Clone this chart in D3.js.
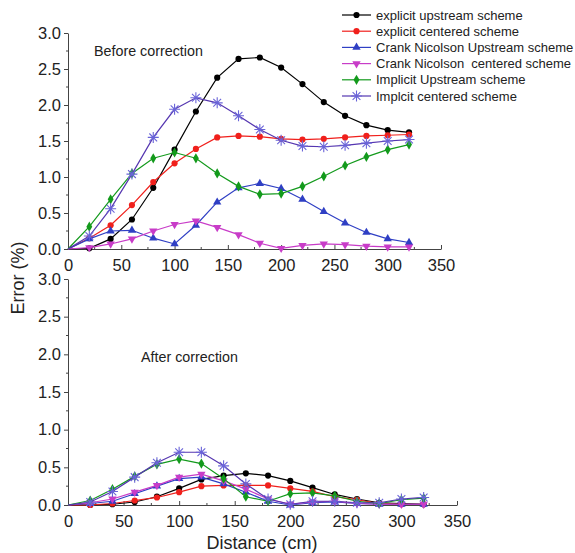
<!DOCTYPE html>
<html>
<head>
<meta charset="utf-8">
<script src="https://cdn.jsdelivr.net/npm/d3@7"></script>
<style>
  body { margin: 0; background: #fff; }
  svg text { font-family: "Liberation Sans", Arial, sans-serif; fill: #222; white-space: pre; }
</style>
</head>
<body>
<svg id="chart" width="575" height="553"></svg>
<script>
// distances along the column (cm)
var distance = [0, 20, 40, 60, 80, 100, 120, 140, 160, 180, 200, 220, 240, 260, 280, 300, 320]
var xTicks = [0, 50, 100, 150, 200, 250, 300, 350]
var yTicks = [0, 0.5, 1.0, 1.5, 2.0, 2.5, 3.0]

var seriesNames = ['explicit upstream scheme', 'explicit centered scheme', 'Crank Nicolson Upstream scheme',
  'Crank Nicolson  centered scheme', 'Implicit Upstream scheme', 'Implcit centered scheme']

// error (%) before correction
var beforeExpUp   = [0, 0.01, 0.14, 0.41, 0.85, 1.38, 1.91, 2.38, 2.64, 2.66, 2.52, 2.29, 2.04, 1.85, 1.72, 1.65, 1.62]
var beforeExpCen  = [0, 0.15, 0.33, 0.61, 0.93, 1.19, 1.39, 1.55, 1.57, 1.56, 1.53, 1.52, 1.53, 1.55, 1.57, 1.58, 1.59]
var beforeCnUp    = [0, 0.14, 0.25, 0.26, 0.15, 0.07, 0.33, 0.65, 0.85, 0.91, 0.84, 0.69, 0.52, 0.36, 0.23, 0.14, 0.09]
var beforeCnCen   = [0, 0.02, 0.07, 0.14, 0.25, 0.34, 0.39, 0.30, 0.20, 0.08, 0.01, 0.05, 0.07, 0.06, 0.04, 0.03, 0.03]
var beforeImpUp   = [0, 0.31, 0.69, 1.05, 1.26, 1.34, 1.26, 1.05, 0.87, 0.76, 0.77, 0.87, 1.01, 1.16, 1.28, 1.38, 1.45]
var beforeImpCen  = [0, 0.18, 0.56, 1.04, 1.55, 1.94, 2.10, 2.03, 1.85, 1.66, 1.51, 1.43, 1.42, 1.44, 1.47, 1.50, 1.52]

// error (%) after correction
var afterExpUp    = [0, 0, 0.01, 0.04, 0.11, 0.22, 0.34, 0.39, 0.42, 0.39, 0.32, 0.23, 0.14, 0.08, 0.03, 0.02, 0.01]
var afterExpCen   = [0, 0, 0.02, 0.06, 0.10, 0.17, 0.25, 0.26, 0.26, 0.26, 0.22, 0.18, 0.11, 0.07, 0.02, 0.01, 0.01]
var afterCnUp     = [0, 0.02, 0.05, 0.15, 0.25, 0.35, 0.37, 0.28, 0.17, 0.05, 0.0, 0.03, 0.04, 0.02, 0.01, 0.01, 0.01]
var afterCnCen    = [0, 0.03, 0.08, 0.17, 0.26, 0.37, 0.41, 0.32, 0.21, 0.08, 0.01, 0.04, 0.05, 0.02, 0.01, 0.01, 0.01]
var afterImpUp    = [0, 0.06, 0.21, 0.38, 0.54, 0.61, 0.55, 0.35, 0.11, 0.05, 0.15, 0.16, 0.12, 0.05, 0.02, 0.07, 0.09]
var afterImpCen   = [0, 0.04, 0.18, 0.37, 0.56, 0.70, 0.70, 0.52, 0.28, 0.08, 0.01, 0.05, 0.05, 0.03, 0.03, 0.08, 0.10]

var colors = ['#000000', '#f0201c', '#2f3fc4', '#c83cc8', '#139a1c', '#5536b0']
var markerColors = ['#000000', '#f0201c', '#2f3fc4', '#c83cc8', '#139a1c', '#6a64d8']
var shapes = ['circle', 'circle', 'triUp', 'triDown', 'diamond', 'star']

var svg = d3.select('#chart')

function drawMarker(g, shape, color, x, y) {
  if (shape == 'star') { // asterisk marker, drawn as strokes
    var r = 5.5
    var p = ''
    for (var k = 0; k < 4; k++) {
      var a = k * Math.PI / 4
      p += 'M' + (x - r * Math.cos(a)) + ',' + (y - r * Math.sin(a)) + 'L' + (x + r * Math.cos(a)) + ',' + (y + r * Math.sin(a))
    }
    g.append('path').attr('d', p).attr('stroke', color).attr('stroke-width', 1.1).attr('fill', 'none')
    return
  }
  var sym, size, rot = 0
  if (shape == 'circle') { sym = d3.symbolCircle; size = 30 }
  if (shape == 'triUp') { sym = d3.symbolTriangle; size = 30 }
  if (shape == 'triDown') { sym = d3.symbolTriangle; size = 30; rot = 180 }
  if (shape == 'diamond') { sym = d3.symbolDiamond; size = 30 }
  g.append('path')
    .attr('d', d3.symbol().type(sym).size(size)())
    .attr('transform', 'translate(' + x + ',' + y + ') rotate(' + rot + ')')
    .attr('fill', color)
}

function drawPanel(opts) {
  var x = d3.scaleLinear().domain([0, 350]).range([68, opts.right])
  var y = d3.scaleLinear().domain([0, 3]).range([opts.bottom, opts.top])
  var g = svg.append('g')

  // x axis, ticks pointing up into the plot
  var xAxis = d3.axisBottom(x).tickValues(xTicks).tickFormat(d3.format('d')).tickSizeInner(-4).tickSizeOuter(0).tickPadding(8)
  var gx = g.append('g').attr('transform', 'translate(0,' + opts.bottom + ')').call(xAxis)
  gx.selectAll('.tick').filter(function(d) { return d == 0 }).select('line').remove()
  gx.selectAll('.tick text').attr('font-size', 16.5).attr('dy', '0.85em')
  gx.selectAll('.minor').data(d3.range(25, 350, 50)).enter().append('line')
    .attr('x1', function(d) { return x(d) }).attr('x2', function(d) { return x(d) })
    .attr('y1', 0).attr('y2', -2).attr('stroke', '#444')

  // y axis, ticks outside
  var yAxis = d3.axisLeft(y).tickValues(yTicks).tickFormat(d3.format('.1f')).tickSizeInner(4).tickSizeOuter(0).tickPadding(3)
  var gy = g.append('g').attr('transform', 'translate(68,0)').call(yAxis)
  gy.selectAll('.tick text').attr('font-size', 16.5)
  gy.selectAll('.minor').data(d3.range(0.25, 3, 0.5)).enter().append('line')
    .attr('y1', function(d) { return y(d) }).attr('y2', function(d) { return y(d) })
    .attr('x1', 0).attr('x2', -2).attr('stroke', '#444')
  g.selectAll('.domain').attr('stroke', '#444')
  g.selectAll('.tick line').attr('stroke', '#444')

  var line = d3.line().x(function(d) { return x(d[0]) }).y(function(d) { return y(d[1]) })
  opts.series.forEach(function(vals, i) {
    var pts = distance.map(function(d, j) { return [d, vals[j]] })
    g.append('path').datum(pts).attr('d', line)
      .attr('fill', 'none').attr('stroke', colors[i]).attr('stroke-width', 1.2)
    var mg = g.append('g')
    pts.forEach(function(p) {
      if (p[0] == 0) return
      drawMarker(mg, shapes[i], markerColors[i], x(p[0]), y(p[1]))
    })
  })

  g.append('text').attr('x', opts.labelX).attr('y', opts.labelY)
    .attr('font-size', 14.3).text(opts.label)
}

drawPanel({ top: 33, bottom: 249, right: 441, label: 'Before correction', labelX: 94, labelY: 56,
  series: [beforeExpUp, beforeExpCen, beforeCnUp, beforeCnCen, beforeImpUp, beforeImpCen] })
drawPanel({ top: 279, bottom: 505, right: 457, label: 'After correction', labelX: 141, labelY: 362,
  series: [afterExpUp, afterExpCen, afterCnUp, afterCnCen, afterImpUp, afterImpCen] })

// legend
var legend = svg.append('g')
seriesNames.forEach(function(name, i) {
  var ly = 15 + i * 16.2
  legend.append('line').attr('x1', 342).attr('x2', 371).attr('y1', ly).attr('y2', ly)
    .attr('stroke', colors[i]).attr('stroke-width', 1.2)
  drawMarker(legend, shapes[i], markerColors[i], 356.5, ly)
  legend.append('text').attr('x', 376).attr('y', ly + 4.5).attr('font-size', 13).text(name)
})

// axis titles
svg.append('text').attr('transform', 'translate(24,278) rotate(-90)')
  .attr('text-anchor', 'middle').attr('font-size', 18).text('Error (%)')
svg.append('text').attr('x', 262).attr('y', 549)
  .attr('text-anchor', 'middle').attr('font-size', 18).text('Distance (cm)')
</script>
</body>
</html>
